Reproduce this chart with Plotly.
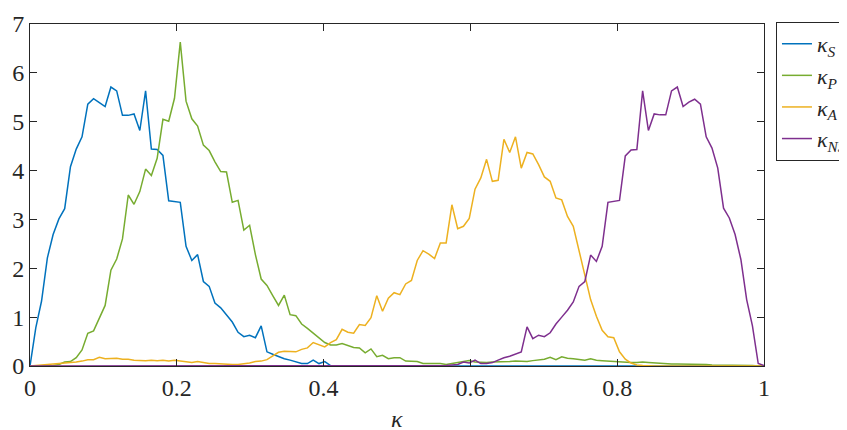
import plotly.graph_objects as go

# grid of kappa values (128 bins from 0 to 1)
KAPPA = [k / 127 for k in range(128)]

KAPPA_S = [0, 0.78, 1.33, 2.21, 2.69, 3.01, 3.22, 4.08, 4.44, 4.69,
           5.36, 5.47, 5.39, 5.31, 5.71, 5.63, 5.13, 5.13, 5.16, 4.82,
           5.63, 4.44, 4.43, 4.31, 3.38, 3.36, 3.35, 2.45, 2.16, 2.28,
           1.73, 1.63, 1.29, 1.19, 1.05, 0.90, 0.69, 0.60, 0.63, 0.58,
           0.82, 0.29, 0.24, 0.19, 0.15, 0.12, 0.08, 0.05, 0.05, 0.12,
           0.05, 0.09, 0.01] + [0.0] * 75

KAPPA_P = [0, 0, 0.01, 0.01, 0.01, 0.03, 0.08, 0.09, 0.17, 0.33,
           0.67, 0.72, 0.99, 1.24, 1.96, 2.19, 2.60, 3.50, 3.31, 3.57,
           4.03, 3.90, 4.25, 5.05, 5.01, 5.48, 6.63, 5.42, 5.06, 4.91,
           4.52, 4.41, 4.18, 3.98, 3.97, 3.35, 3.39, 2.78, 2.88, 2.28,
           1.78, 1.65, 1.44, 1.24, 1.45, 1.05, 1.03, 0.86, 0.77, 0.67,
           0.57, 0.48, 0.43, 0.43, 0.46, 0.42, 0.38, 0.37, 0.27, 0.35,
           0.19, 0.22, 0.15, 0.17, 0.17, 0.10, 0.10, 0.09, 0.05, 0.05,
           0.06, 0.05, 0.03, 0.05, 0.07, 0.08, 0.11, 0.08, 0.07, 0.07,
           0.08, 0.08, 0.09, 0.09, 0.10, 0.10, 0.09, 0.11, 0.13, 0.14,
           0.18, 0.13, 0.19, 0.16, 0.15, 0.14, 0.12, 0.15, 0.12, 0.11,
           0.10, 0.10, 0.09, 0.08, 0.07, 0.07, 0.08, 0.07, 0.06, 0.05,
           0.05, 0.04, 0.04, 0.04, 0.03, 0.03, 0.03, 0.03, 0.02, 0.02,
           0.02, 0.02, 0.01, 0.01, 0.01, 0.01, 0.0, 0.0]

KAPPA_A = [0, 0.01, 0.02, 0.03, 0.04, 0.04, 0.06, 0.07, 0.08, 0.10,
           0.13, 0.13, 0.18, 0.15, 0.15, 0.16, 0.14, 0.14, 0.12, 0.11,
           0.11, 0.12, 0.11, 0.12, 0.10, 0.12, 0.10, 0.08, 0.07, 0.09,
           0.07, 0.05, 0.05, 0.04, 0.03, 0.03, 0.03, 0.04, 0.06, 0.09,
           0.10, 0.13, 0.20, 0.28, 0.30, 0.30, 0.29, 0.34, 0.37, 0.48,
           0.44, 0.39, 0.48, 0.54, 0.75, 0.69, 0.67, 0.85, 0.83, 0.99,
           1.44, 1.12, 1.39, 1.50, 1.46, 1.68, 1.75, 2.16, 2.36, 2.29,
           2.20, 2.52, 2.52, 3.30, 2.81, 2.86, 3.02, 3.62, 3.85, 4.23,
           3.78, 3.80, 4.64, 4.37, 4.69, 4.05, 4.37, 4.34, 4.12, 3.87,
           3.78, 3.44, 3.40, 3.06, 2.86, 2.38, 1.85, 1.36, 1.02, 0.73,
           0.60, 0.58, 0.29, 0.14, 0.06, 0.02, 0.01] + [0.0] * 21

KAPPA_NS = [0.0] * 72 + [
           0.01, 0.02, 0.03, 0.08, 0.06, 0.12, 0.05, 0.05,
           0.07, 0.12, 0.17, 0.20, 0.24, 0.29, 0.80, 0.56, 0.63, 0.60,
           0.68, 0.86, 1.00, 1.14, 1.31, 1.63, 1.73, 2.27, 2.14, 2.45,
           3.35, 3.37, 3.39, 4.30, 4.42, 4.43, 5.63, 4.82, 5.16, 5.14,
           5.14, 5.63, 5.71, 5.31, 5.40, 5.46, 5.36, 4.69, 4.46, 4.05,
           3.23, 3.03, 2.69, 2.18, 1.36, 0.82, 0.05, 0.01]

X_TICKS = [0, 0.2, 0.4, 0.6, 0.8, 1]
X_TICKTEXT = ["0", "0.2", "0.4", "0.6", "0.8", "1"]
Y_TICKS = [0, 1, 2, 3, 4, 5, 6, 7]
X_LABEL = "<i>κ</i>"

SERIES = [
    ("<i>κ</i><sub><i>S</i></sub>", KAPPA_S, "#0072BD"),
    ("<i>κ</i><sub><i>P</i></sub>", KAPPA_P, "#77AC30"),
    ("<i>κ</i><sub><i>A</i></sub>", KAPPA_A, "#EDB120"),
    ("<i>κ</i><sub><i>NS</i></sub>", KAPPA_NS, "#7E2F8E"),
]

fig = go.Figure()
for name, ys, color in SERIES:
    fig.add_trace(go.Scatter(x=KAPPA, y=ys, mode="lines", name=name,
                             line=dict(color=color, width=1.5)))

axis_common = dict(showline=True, linecolor="#262626", linewidth=1,
                   mirror="ticks", ticks="inside", ticklen=7,
                   tickcolor="#262626", showgrid=False, zeroline=False)

fig.update_xaxes(range=[0, 1], tickvals=X_TICKS, ticktext=X_TICKTEXT,
                 **axis_common)
fig.update_yaxes(range=[0, 7], tickvals=Y_TICKS, **axis_common)

# x-axis label as an annotation below the tick labels
fig.add_annotation(text=X_LABEL, xref="paper", yref="paper", x=0.5, y=-0.155,
                   xanchor="center", yanchor="middle", showarrow=False,
                   font=dict(size=24))

# the page body adds an 8px offset, so margins are reduced by 8px
fig.update_layout(
    width=847, height=430,
    margin=dict(l=22, r=91, t=16, b=72, autoexpand=False),
    plot_bgcolor="white", paper_bgcolor="white",
    font=dict(family="Liberation Serif", size=24, color="#262626"),
    legend=dict(x=1.0163, y=1.006, xanchor="left", yanchor="top",
                bordercolor="#262626", borderwidth=1, bgcolor="white",
                font=dict(size=22), itemwidth=30, tracegroupgap=0),
)

fig.write_html("out.html")
